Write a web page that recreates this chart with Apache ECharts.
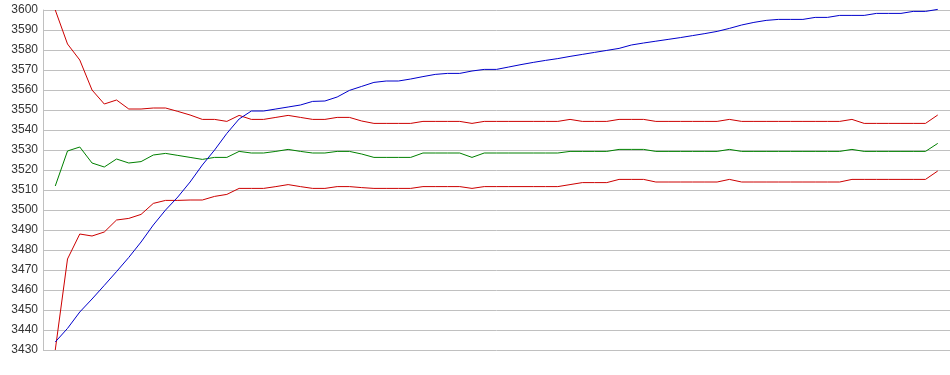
<!DOCTYPE html>
<html>
<head>
<meta charset="utf-8">
<script src="https://cdn.jsdelivr.net/npm/echarts@6/dist/echarts.min.js"></script>
<style>
html,body{margin:0;padding:0;background:#fff;}
#chart{width:950px;height:375px;}
</style>
</head>
<body>
<div id="chart"></div>
<script>
// y-axis tick values
const yMin = 3430, yMax = 3600, yStep = 10;

// Series values (73 samples each)
const upperRed = [3600,3583,3575,3560,3553,3555,3550.5,3550.5,3551,3551,
  3549.3,3547.5,3545.3,3545.3,3544.3,3547.3,3545.3,3545.3,3546.3,3547.3,
  3546.3,3545.3,3545.3,3546.3,3546.3,3544.5,3543.3,3543.3,3543.3,3543.3,
  3544.3,3544.3,3544.3,3544.3,3543.3,3544.3,3544.3,3544.3,3544.3,3544.3,
  3544.3,3544.3,3545.3,3544.3,3544.3,3544.3,3545.3,3545.3,3545.3,3544.3,
  3544.3,3544.3,3544.3,3544.3,3544.3,3545.3,3544.3,3544.3,3544.3,3544.3,
  3544.3,3544.3,3544.3,3544.3,3544.3,3545.3,3543.3,3543.3,3543.3,3543.3,
  3543.3,3543.3,3547.5];

const green = [3512,3529.5,3531.5,3523.5,3521.5,3525.5,3523.5,3524.2,3527.5,3528.3,
  3527.3,3526.3,3525.3,3526.3,3526.3,3529.3,3528.5,3528.5,3529.3,3530.3,
  3529.3,3528.5,3528.5,3529.3,3529.3,3528,3526.3,3526.3,3526.3,3526.3,
  3528.5,3528.5,3528.5,3528.5,3526.3,3528.5,3528.5,3528.5,3528.5,3528.5,
  3528.5,3528.5,3529.3,3529.3,3529.3,3529.3,3530.3,3530.3,3530.3,3529.3,
  3529.3,3529.3,3529.3,3529.3,3529.3,3530.3,3529.3,3529.3,3529.3,3529.3,
  3529.3,3529.3,3529.3,3529.3,3529.3,3530.3,3529.3,3529.3,3529.3,3529.3,
  3529.3,3529.3,3533.3];

const lowerRed = [3430,3475.5,3488,3487,3489,3495,3495.8,3497.8,3503.3,3504.8,
  3504.8,3505,3505,3506.8,3507.8,3510.8,3510.8,3510.8,3511.7,3512.7,
  3511.7,3510.8,3510.8,3511.7,3511.7,3511.2,3510.8,3510.8,3510.8,3510.8,
  3511.7,3511.7,3511.7,3511.7,3510.8,3511.7,3511.7,3511.7,3511.7,3511.7,
  3511.7,3511.7,3512.7,3513.7,3513.7,3513.7,3515.3,3515.3,3515.3,3514,
  3514,3514,3514,3514,3514,3515.3,3514,3514,3514,3514,
  3514,3514,3514,3514,3514,3515.3,3515.3,3515.3,3515.3,3515.3,
  3515.3,3515.3,3519.5];

const blue = [3434,3440.8,3449,3455.5,3462.3,3469.2,3476.3,3484,3492.5,3500,
  3506.5,3514,3522.5,3530,3538.3,3545.5,3549.5,3549.5,3550.5,3551.5,
  3552.5,3554.3,3554.5,3556.5,3559.8,3561.8,3563.8,3564.5,3564.5,3565.5,
  3566.7,3567.8,3568.3,3568.3,3569.5,3570.3,3570.3,3571.5,3572.7,3573.8,
  3574.8,3575.7,3576.8,3577.8,3578.8,3579.8,3580.8,3582.5,3583.5,3584.4,
  3585.3,3586.2,3587.2,3588.2,3589.3,3590.8,3592.5,3593.8,3594.8,3595.3,
  3595.3,3595.3,3596.3,3596.3,3597.3,3597.3,3597.3,3598.3,3598.3,3598.3,
  3599.3,3599.3,3600.3];

function pairs(arr){ return arr.map((v,i)=>[i+1,v]); }
const n = blue.length;

const chart = echarts.init(document.getElementById('chart'), null, {renderer:'canvas'});
function line(data, color){
  return {type:'line', data:pairs(data), symbol:'none', clip:false,
    lineStyle:{color:color, width:1}, itemStyle:{color:color}, silent:true, animation:false};
}
chart.setOption({
  animation:false,
  backgroundColor:'#ffffff',
  grid:{left:43, right:0, top:10, bottom:25, containLabel:false},
  xAxis:{type:'value', min:0, max:n+1, show:false, splitLine:{show:false}},
  yAxis:{type:'value', min:yMin, max:yMax, interval:yStep,
    axisLine:{show:true, lineStyle:{color:'#c0c0c0', width:1}},
    axisTick:{show:false},
    splitLine:{show:true, lineStyle:{color:'#c0c0c0', width:1}},
    axisLabel:{color:'#333333', fontSize:12, fontFamily:'Liberation Sans, Arial, sans-serif', margin:5,
      formatter:function(v){ return String(v); }}
  },
  series:[
    line(upperRed,'#cc0000'),
    line(green,'#008000'),
    line(lowerRed,'#cc0000'),
    line(blue,'#0000cc')
  ]
});
</script>
</body>
</html>
